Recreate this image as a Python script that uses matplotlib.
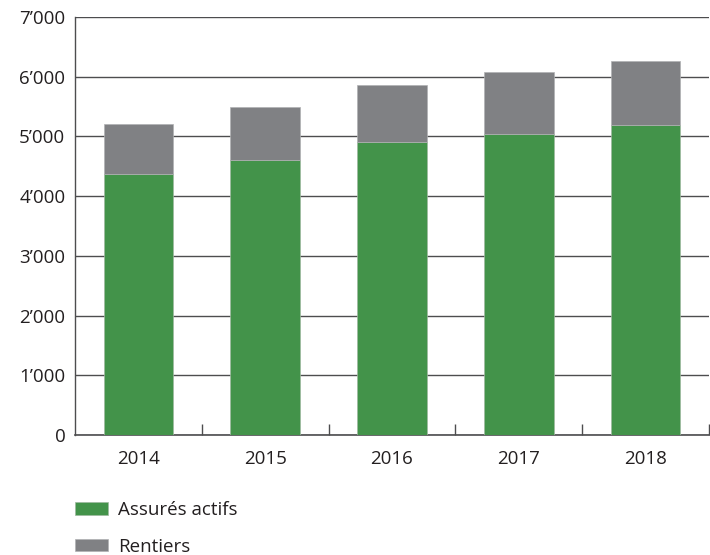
import matplotlib
matplotlib.use("Agg")
import matplotlib.pyplot as plt
from matplotlib.ticker import FuncFormatter, MultipleLocator

plt.rcParams['font.family'] = ['Open Sans', 'DejaVu Sans']

years = ['2014', '2015', '2016', '2017', '2018']
assures_actifs = [4371, 4605, 4906, 5035, 5186]
rentiers = [843, 894, 962, 1050, 1072]

green = '#43934a'
grey = '#808184'
text_col = '#231f20'

fig = plt.figure(figsize=(7.1, 5.55), dpi=100)
ax = fig.add_axes([0.1056, 0.2162, 0.8930, 0.7532])

x = range(len(years))
ax.bar(x, assures_actifs, width=0.55, color=green, edgecolor='#9fb9a0',
       linewidth=0.5, label='Assurés actifs', zorder=3)
ax.bar(x, rentiers, width=0.55, bottom=assures_actifs, color=grey,
       edgecolor='#b0b1b3', linewidth=0.5, label='Rentiers', zorder=3)

ax.set_xlim(-0.5, 4.5)
ax.set_ylim(0, 7000)
ax.yaxis.set_major_locator(MultipleLocator(1000))
ax.yaxis.set_major_formatter(FuncFormatter(
    lambda v, p: '0' if v == 0 else f"{int(v) // 1000}\u2019{int(v) % 1000:03d}"))
ax.grid(axis='y', color='#4d4d4f', linewidth=1.0, zorder=0)
ax.set_axisbelow(True)

ax.set_xticks(list(x))
ax.set_xticklabels(years)
ax.set_xticks([0.5, 1.5, 2.5, 3.5, 4.5], minor=True)
ax.tick_params(axis='x', which='major', length=0, pad=11, labelsize=13.5,
               colors=text_col)
ax.tick_params(axis='x', which='minor', direction='in', length=8,
               width=1, color='#4d4d4f')
ax.tick_params(axis='y', length=0, pad=7, labelsize=13.5, colors=text_col)

for s in ['top', 'right']:
    ax.spines[s].set_visible(False)
ax.spines['left'].set_color('#4d4d4f')
ax.spines['bottom'].set_color('#4d4d4f')
ax.spines['left'].set_linewidth(1.0)
ax.spines['bottom'].set_linewidth(1.2)

handles, labels = ax.get_legend_handles_labels()
fig.legend(handles, labels, loc='upper left',
           bbox_to_anchor=(0.1056, 1 - 501 / 555), frameon=False,
           fontsize=13.5, handlelength=1.75, handleheight=0.65,
           handletextpad=0.55, labelspacing=1.0, borderpad=0,
           borderaxespad=0, labelcolor=text_col)

fig.savefig('out.png', dpi=100)
